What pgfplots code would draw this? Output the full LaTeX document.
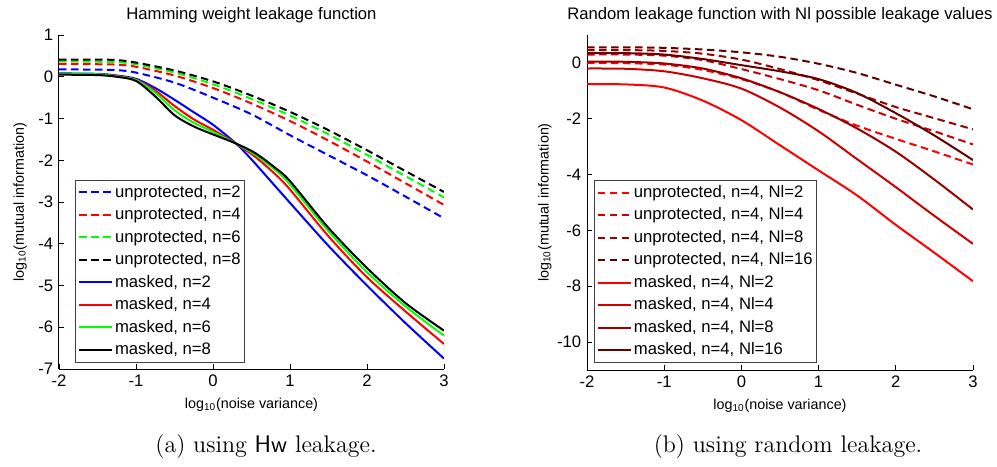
\documentclass[border=0pt]{standalone}
\usepackage{fontspec}
\usepackage{pgfplots}
\pgfplotsset{compat=1.18}
\newfontfamily\chartfont{Liberation Sans}
\definecolor{rA}{HTML}{FF0000}
\definecolor{rB}{HTML}{CC0000}
\definecolor{rC}{HTML}{990000}
\definecolor{rD}{HTML}{660000}

\pgfplotsset{
  mlab/.style={
    scale only axis,
    xmin=-2, xmax=3, xtick={-2,-1,0,1,2,3},
    axis x line*=bottom, axis y line*=left,
    axis line style={line width=0.6pt},
    tick align=inside, major tick length=3pt,
    tick style={line width=0.5pt, black},
    /pgf/number format/assume math mode=true,
    ticklabel style={font=\chartfont\fontsize{10}{12}\selectfont},
    label style={font=\chartfont\fontsize{8.6}{10}\selectfont},
    title style={font=\chartfont\fontsize{10}{12}\selectfont, at={(0.5,1)}, anchor=south, yshift=1pt, inner sep=0pt},
    xlabel style={at={(axis description cs:0.5,-0.108)}, anchor=center},
    xlabel={log\textsubscript{10}(noise variance)},
    ylabel={log\textsubscript{10}(mutual information)},
    every axis plot/.append style={line width=1.2pt, smooth},
    legend cell align=left,
    legend image code/.code={\draw[#1] (0pt,0pt) -- (20pt,0pt);},
    legend style={anchor=north west, draw=black!75, line width=0.5pt,
      font=\chartfont\fontsize{10}{12}\selectfont, inner sep=1.5pt, row sep=2pt,
      nodes={inner sep=1pt, text height=7.5pt, text depth=2pt}},
  },
  unp/.style={dash pattern=on 4.5pt off 2.7pt},
}

\begin{document}
\begin{tikzpicture}
\useasboundingbox (0,0) rectangle (598.2pt,279.6pt);

% (a) Hamming weight
\begin{axis}[mlab,
  at={(35.4pt,58.2pt)}, anchor=south west,
  width=231pt, height=200.4pt,
  ymin=-7, ymax=1, ytick={-7,-6,-5,-4,-3,-2,-1,0,1},
  title={Hamming weight leakage function},
  ylabel style={at={(axis description cs:-0.101,0.5)}, anchor=center},
  legend style={at={(0.042,0.566)}},
]
\addplot[blue, unp] coordinates {(-2,0.18)(-1.5,0.17)(-1.25,0.16)(-1,0.1)(-0.5,-0.14)(0,-0.5)(0.5,-0.9)(1,-1.4)(1.5,-1.88)(2,-2.36)(2.5,-2.87)(3,-3.39)};
\addplot[red, unp] coordinates {(-2,0.31)(-1.5,0.3)(-1.25,0.29)(-1,0.24)(-0.5,0.03)(0,-0.27)(0.5,-0.64)(1,-1.06)(1.5,-1.53)(2,-2.03)(2.5,-2.55)(3,-3.07)};
\addplot[green, unp] coordinates {(-2,0.37)(-1.5,0.36)(-1.25,0.35)(-1,0.3)(-0.5,0.1)(0,-0.18)(0.5,-0.53)(1,-0.93)(1.5,-1.38)(2,-1.87)(2.5,-2.38)(3,-2.89)};
\addplot[black, unp] coordinates {(-2,0.41)(-1.5,0.41)(-1.25,0.4)(-1,0.34)(-0.5,0.15)(0,-0.11)(0.5,-0.45)(1,-0.84)(1.5,-1.28)(2,-1.76)(2.5,-2.26)(3,-2.76)};
\addplot[blue] coordinates {(-2,0.08)(-1.5,0.07)(-1.25,0.03)(-1,-0.05)(-0.75,-0.27)(-0.5,-0.55)(-0.25,-0.85)(0,-1.15)(0.3,-1.6)(0.5,-1.98)(0.75,-2.5)(1,-3.02)(1.5,-4.05)(2,-5.0)(2.5,-5.9)(3,-6.75)};
\addplot[red] coordinates {(-2,0.07)(-1.5,0.06)(-1.25,0.02)(-1,-0.07)(-0.75,-0.33)(-0.5,-0.7)(-0.25,-1.02)(0,-1.27)(0.3,-1.6)(0.55,-1.92)(0.8,-2.32)(1,-2.7)(1.5,-3.82)(2,-4.8)(2.5,-5.62)(3,-6.4)};
\addplot[green] coordinates {(-2,0.07)(-1.5,0.06)(-1.25,0.01)(-1,-0.08)(-0.75,-0.38)(-0.5,-0.8)(-0.25,-1.1)(0,-1.32)(0.3,-1.6)(0.55,-1.87)(0.8,-2.22)(1,-2.58)(1.5,-3.7)(2,-4.68)(2.5,-5.5)(3,-6.2)};
\addplot[black] coordinates {(-2,0.05)(-1.5,0.04)(-1.25,0.0)(-1,-0.1)(-0.75,-0.47)(-0.5,-0.92)(-0.25,-1.19)(0,-1.38)(0.3,-1.6)(0.55,-1.83)(0.8,-2.17)(1,-2.5)(1.5,-3.62)(2,-4.58)(2.5,-5.42)(3,-6.08)};
\legend{unprotected{,} n=2, unprotected{,} n=4, unprotected{,} n=6, unprotected{,} n=8,
  masked{,} n=2, masked{,} n=4, masked{,} n=6, masked{,} n=8}
\end{axis}

% (b) random leakage
\begin{axis}[mlab,
  at={(352.2pt,57.6pt)}, anchor=south west,
  width=231.6pt, height=201pt,
  ymin=-11, ymax=1, ytick={-10,-8,-6,-4,-2,0},
  title={Random leakage function with Nl possible leakage values},
  ylabel style={at={(axis description cs:-0.109,0.5)}, anchor=center},
  legend style={at={(0.018,0.567)}},
]
\addplot[rA, unp] coordinates {(-2,0.0)(-1.5,-0.01)(-1,-0.06)(-0.5,-0.25)(0,-0.58)(0.5,-1.05)(1,-1.68)(1.5,-2.25)(2,-2.72)(2.5,-3.17)(3,-3.64)};
\addplot[rB, unp] coordinates {(-2,0.30)(-1.5,0.30)(-1,0.26)(-0.5,0.1)(0,-0.22)(0.5,-0.58)(1,-0.98)(1.5,-1.5)(2,-2.0)(2.5,-2.45)(3,-2.92)};
\addplot[rC, unp] coordinates {(-2,0.46)(-1.5,0.46)(-1,0.43)(-0.5,0.33)(0,0.12)(0.5,-0.22)(1,-0.62)(1.5,-1.1)(2,-1.58)(2.5,-1.98)(3,-2.38)};
\addplot[rD, unp] coordinates {(-2,0.56)(-1.5,0.56)(-1,0.54)(-0.5,0.48)(0,0.38)(0.5,0.22)(1,-0.03)(1.5,-0.36)(2,-0.78)(2.5,-1.2)(3,-1.66)};
\addplot[rA] coordinates {(-2,-0.76)(-1.5,-0.77)(-1,-0.88)(-0.5,-1.35)(0,-2.05)(0.5,-2.95)(1,-3.85)(1.5,-4.75)(2,-5.8)(2.5,-6.8)(3,-7.82)};
\addplot[rB] coordinates {(-2,-0.2)(-1.5,-0.21)(-1,-0.3)(-0.5,-0.55)(0,-0.92)(0.5,-1.6)(1,-2.45)(1.5,-3.45)(2,-4.45)(2.5,-5.48)(3,-6.48)};
\addplot[rC] coordinates {(-2,0.05)(-1.5,0.04)(-1,-0.02)(-0.5,-0.2)(0,-0.55)(0.5,-1.05)(1,-1.65)(1.5,-2.35)(2,-3.18)(2.5,-4.18)(3,-5.25)};
\addplot[rD] coordinates {(-2,0.35)(-1.5,0.35)(-1,0.3)(-0.5,0.14)(0,-0.08)(0.5,-0.3)(1,-0.58)(1.5,-1.08)(2,-1.8)(2.5,-2.6)(3,-3.48)};
\legend{unprotected{,} n=4{,} Nl=2, unprotected{,} n=4{,} Nl=4, unprotected{,} n=4{,} Nl=8, unprotected{,} n=4{,} Nl=16,
  masked{,} n=4{,} Nl=2, masked{,} n=4{,} Nl=4, masked{,} n=4{,} Nl=8, masked{,} n=4{,} Nl=16}
\end{axis}

\node[font=\fontsize{14.4}{17}\selectfont] at (159.6pt,11.4pt) {(a) using \textsf{Hw} leakage.};
\node[font=\fontsize{14.4}{17}\selectfont] at (472.8pt,11.4pt) {(b) using random leakage.};
\end{tikzpicture}
\end{document}
